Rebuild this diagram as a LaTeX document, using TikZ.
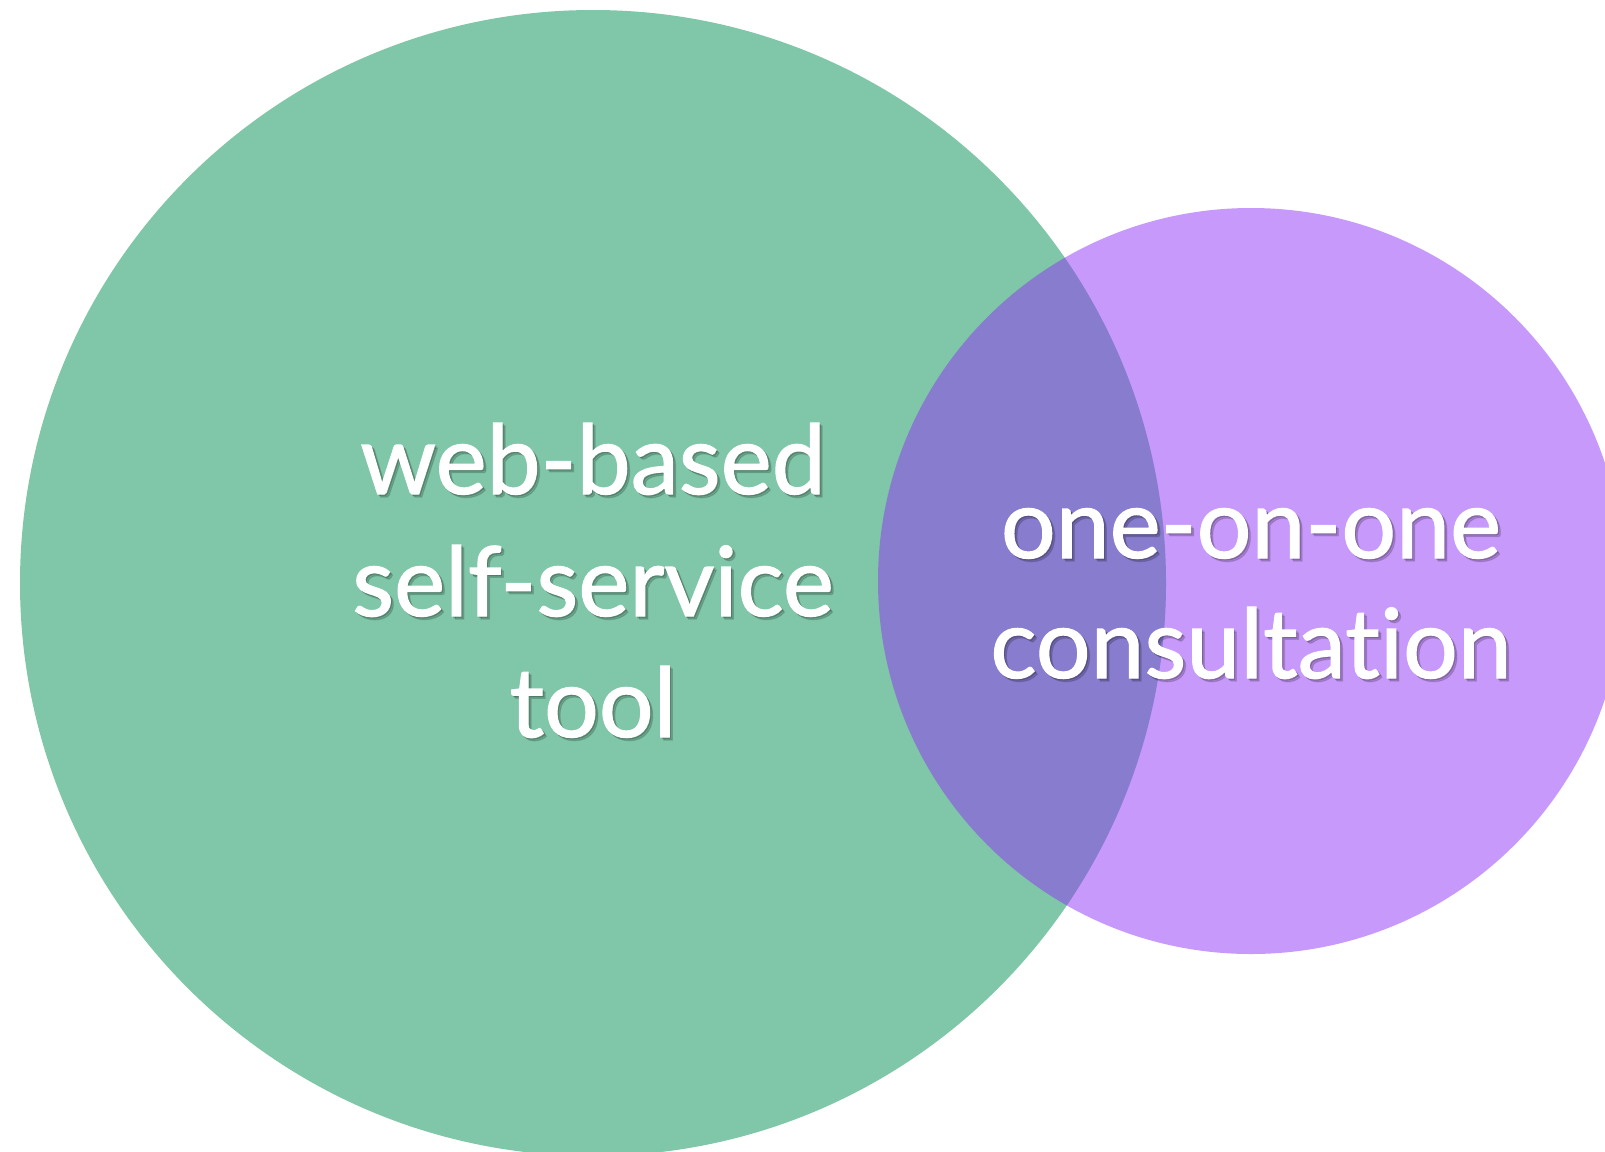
\documentclass[tikz,border=0pt]{standalone}
\usepackage{fontspec}
\setmainfont[Ligatures=NoCommon,FakeBold=1.2]{Lato}
\definecolor{toolgreen}{RGB}{128,198,168}
\definecolor{talkpurple}{RGB}{143,51,245}
\tikzset{
  word/.style={text=white, anchor=base, inner sep=0pt, font=\fontsize{55}{66}\selectfont},
  wordshade/.style={word, text=black, text opacity=0.14},
}
\begin{document}
\begin{tikzpicture}

   \useasboundingbox (0,0) rectangle (32.1,-23.02);

   \fill [toolgreen] (11.86,-11.66) circle [radius=11.46];
   \fill [talkpurple, fill opacity=0.5] (25.02,-11.62) circle [radius=7.46];

   % soft shadow under the words
   \node at (11.92,-9.94) [wordshade] {web-based};
   \node at (11.92,-12.38) [wordshade] {self-service};
   \node at (11.92,-14.80) [wordshade] {tool};
   \node at (25.08,-11.22) [wordshade] {one-on-one};
   \node at (25.08,-13.62) [wordshade] {consultation};
   \node at (11.89,-9.91) [wordshade] {web-based};
   \node at (11.89,-12.35) [wordshade] {self-service};
   \node at (11.89,-14.77) [wordshade] {tool};
   \node at (25.05,-11.19) [wordshade] {one-on-one};
   \node at (25.05,-13.59) [wordshade] {consultation};

   \node (web) at (11.86,-9.88) [word] {web-based};
   \node (self) at (11.86,-12.32) [word] {self-service};
   \node (tool) at (11.86,-14.74) [word] {tool};

   \node (one) at (25.02,-11.16) [word] {one-on-one};
   \node (consult) at (25.02,-13.56) [word] {consultation};

   \end{tikzpicture}
\end{document}
